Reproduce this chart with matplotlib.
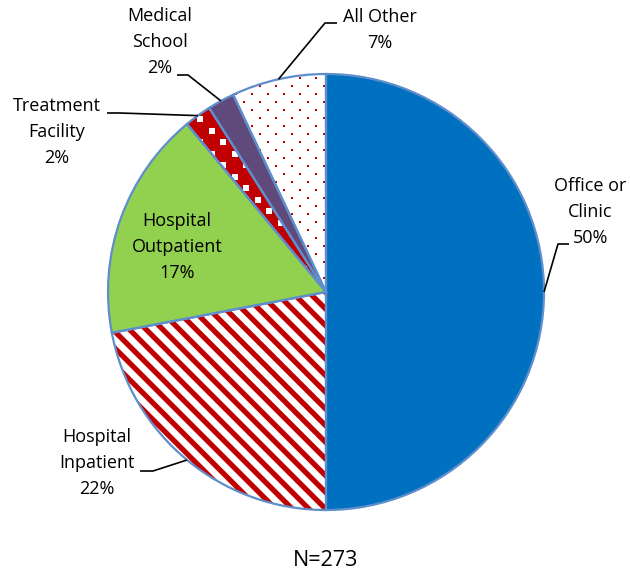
import numpy as np
import matplotlib
matplotlib.use('Agg')
import matplotlib.pyplot as plt

categories = ['Office or\nClinic', 'Hospital\nInpatient', 'Hospital\nOutpatient',
              'Treatment\nFacility', 'Medical\nSchool', 'All Other']
values = [50, 22, 17, 2, 2, 7]
pct_labels = ['50%', '22%', '17%', '2%', '2%', '7%']
total_label = 'N=273'

face = ['#0070C0', 'white', '#92D050', '#C00000', '#604A7B', 'white']
# fill textures: (kind, colour, spacing px, mark size pt^2)
textures = [None, ('stripes', '#C00000'), None, ('dots', 'white', 11.5, 16),
            None, ('dots', '#C00000', 8.0, 2.5)]

plt.rcParams['font.family'] = ['Open Sans', 'DejaVu Sans']
plt.rcParams['hatch.linewidth'] = 3.8

W, H = 630, 575
fig = plt.figure(figsize=(6.3, 5.75), dpi=100)
ax = fig.add_axes([0, 0, 1, 1])
cx, cy, R = 326, H - 292, 218

wedges, _ = ax.pie(values, center=(cx, cy), radius=R, startangle=90,
                   counterclock=False, colors=face, frame=True,
                   wedgeprops=dict(linewidth=0))
for w, tex in zip(wedges, textures):
    w.set_linewidth(0)
    if tex is None:
        continue
    if tex[0] == 'stripes':
        w.set_edgecolor(tex[1])
        w.set_hatch('\\\\')
    else:
        w.set_edgecolor(w.get_facecolor())
        d = tex[2]
        xs = np.arange(cx - R, cx + R + d, d)
        ys = np.arange(cy - R, cy + R + d, d)
        gx, gy = np.meshgrid(np.arange(len(xs)), np.arange(len(ys)))
        mask = (gx + gy) % 2 == 0
        px = xs[gx[mask]]
        py = ys[gy[mask]]
        sc = ax.scatter(px, py, s=tex[3], marker='s', c=tex[1], linewidths=0, zorder=2)
        sc.set_clip_path(w)

outline, _ = ax.pie(values, center=(cx, cy), radius=R, startangle=90,
                    counterclock=False, frame=True,
                    wedgeprops=dict(facecolor='none', edgecolor='#5E8ECB', linewidth=1.6))
for w in outline:
    w.set_facecolor('none')
    w.set_zorder(3)

ax.set_xlim(0, W)
ax.set_ylim(0, H)
ax.set_aspect('equal')
ax.axis('off')

# label layout (pixel coords measured from the top)
label_pos = [(590, 212), (97, 463), (177, 247), (57, 132), (160, 42), (380, 30)]
leader = [((558, 244), (569, 244)), ((153, 471), (140, 471)), None,
          ((120, 113), (107, 113)), ((188, 75), (177, 75)), ((325, 23), (337, 23))]

fs = 13
for i, (cat, pct) in enumerate(zip(categories, pct_labels)):
    x, y = label_pos[i]
    ax.text(x, H - y, cat + '\n' + pct, ha='center', va='center',
            multialignment='center', fontsize=fs, color='black', linespacing=1.55,
            zorder=6)
    if leader[i] is not None:
        th = np.deg2rad((wedges[i].theta1 + wedges[i].theta2) / 2)
        ax_pt = (cx + R * np.cos(th), cy + R * np.sin(th))
        (ex, ey), (tx, ty) = leader[i]
        ax.plot([ax_pt[0], ex, tx], [ax_pt[1], H - ey, H - ty], color='black', lw=1.2,
                solid_capstyle='butt', zorder=5)

ax.text(326, H - 560, total_label, ha='center', va='center', fontsize=15.5)

fig.savefig('out.png', dpi=100)
